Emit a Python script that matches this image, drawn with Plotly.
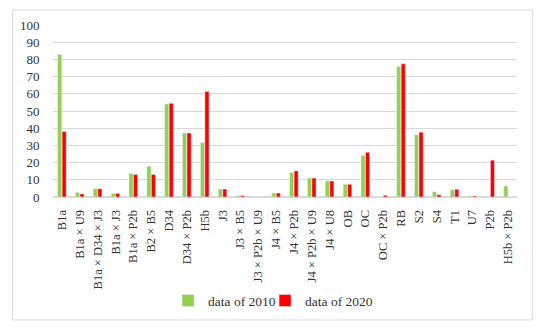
import plotly.graph_objects as go

categories = ["B1a", "B1a × U9", "B1a × D34 × J3", "B1a × J3", "B1a × P2b", "B2 × B5",
              "D34", "D34 × P2b", "H5b", "J3", "J3 × B5", "J3 × P2b × U9", "J4 × B5",
              "J4 × P2b", "J4 × P2b × U9", "J4 × U8", "OB", "OC", "OC × P2b", "RB",
              "S2", "S4", "T1", "U7", "P2b", "H5b × P2b"]
data_2010 = [82.8, 2.7, 4.8, 2.1, 13.7, 17.8, 54.1, 37.2, 31.6, 4.6, 0.8, 0.0, 2.3,
             14.2, 11.0, 9.4, 7.4, 24.1, 0.0, 75.9, 36.2, 3.0, 4.2, 0.6, 0.0, 6.4]
data_2020 = [38.1, 1.8, 4.8, 2.1, 13.1, 13.1, 54.5, 37.2, 61.4, 4.6, 0.8, 0.0, 2.3,
             15.2, 11.0, 9.3, 7.4, 26.0, 1.0, 77.4, 37.7, 1.3, 4.5, 0.6, 21.4, 0.0]
yticks = [0, 10, 20, 30, 40, 50, 60, 70, 80, 90, 100]

font = "Liberation Serif"
fig = go.Figure()
fig.add_trace(go.Bar(x=categories, y=data_2010, name="data of 2010",
                     marker_color="#92D050", legend="legend"))
fig.add_trace(go.Bar(x=categories, y=data_2020, name="data of 2020",
                     marker_color="#FF0000", legend="legend2"))

legend_style = dict(orientation="h", xanchor="left", y=-0.603, yanchor="middle",
                    font=dict(family=font, size=13.5, color="#333333"), itemwidth=30,
                    bgcolor="rgba(0,0,0,0)")

fig.update_layout(
    width=550, height=330,
    margin=dict(l=45, r=41, t=17, b=141, autoexpand=False),
    paper_bgcolor="white", plot_bgcolor="white",
    barmode="group", bargap=0.5, bargroupgap=0.08,
    font=dict(family=font, size=13, color="#333333"),
    showlegend=True,
    legend=dict(x=0.248, **legend_style),
    legend2=dict(x=0.457, **legend_style),
    shapes=[dict(type="rect", xref="paper", yref="paper", x0=-0.087, x1=1.033,
                 y0=-0.715, y1=1.087, line=dict(color="#d9d9d9", width=1),
                 fillcolor="rgba(0,0,0,0)", layer="below")],
)
fig.update_xaxes(tickangle=-90, tickfont=dict(family=font, size=12.5, color="#333333"),
                 showgrid=False, showline=False, ticks="outside", ticklen=7,
                 tickcolor="rgba(0,0,0,0)", automargin=False)
fig.update_yaxes(range=[0, 100], tickvals=yticks, showgrid=True, gridcolor="#d9d9d9",
                 gridwidth=1, zeroline=True, zerolinecolor="#d9d9d9", showline=False,
                 ticks="outside", ticklen=10, tickcolor="rgba(0,0,0,0)", automargin=False,
                 tickfont=dict(family=font, size=13, color="#333333"))

fig.write_html("out.html")
